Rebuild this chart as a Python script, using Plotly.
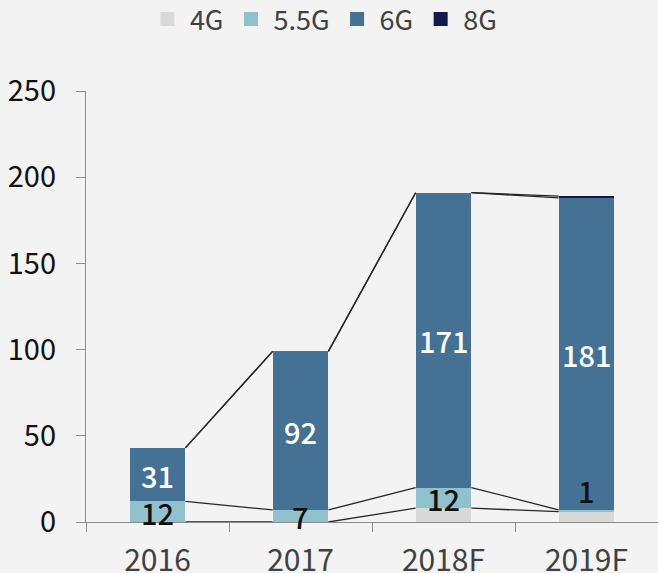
import numpy as np
import plotly.graph_objects as go

categories = ["2016", "2017", "2018F", "2019F"]
s_4g = [0, 0, 8, 6]
s_55g = [12, 7, 12, 1]
s_6g = [31, 92, 171, 181]
s_8g = [0, 0, 0, 1]
series_names = ["4G", "5.5G", "6G", "8G"]
y_ticks = [0, 50, 100, 150, 200, 250]

colors = ["#d9d9d9", "#92c1ce", "#457294", "#17184f"]
series = [s_4g, s_55g, s_6g, s_8g]
bar_w = 0.39
xs = np.arange(len(categories))
FONT = "Noto Sans CJK KR"
BG = "#f3f3f3"

fig = go.Figure()
for name, vals, col in zip(series_names, series, colors):
    fig.add_trace(go.Bar(x=xs, y=vals, name=name, marker=dict(color=col, line=dict(width=0)),
                         width=bar_w, hoverinfo="skip", showlegend=False, legendgroup=name))

# legend entries (square swatches)
for name, col in zip(series_names, colors):
    fig.add_trace(go.Scatter(x=[None], y=[None], mode="markers", name=name, legendgroup=name,
                             marker=dict(symbol="square", size=14, color=col, line=dict(width=0))))

# series lines
cum = np.cumsum(np.array(series, dtype=float), axis=0)
for k in range(cum.shape[0]):
    lx, ly = [], []
    for i in range(len(categories) - 1):
        lx += [xs[i] + bar_w / 2, xs[i + 1] - bar_w / 2, None]
        ly += [cum[k, i], cum[k, i + 1], None]
    fig.add_trace(go.Scatter(x=lx, y=ly, mode="lines", line=dict(color="#262626", width=1.3),
                             showlegend=False, hoverinfo="skip"))

# data labels
label_specs = [(1, "#111111"), (2, "white")]
annotations = []
for k, col in label_specs:
    for i in range(len(categories)):
        v = series[k][i]
        if v <= 0:
            continue
        base = cum[k - 1, i] if k > 0 else 0
        mid = base + v / 2
        shift = 0
        if k == 1 and v < 3:
            shift = 21
        annotations.append(dict(x=xs[i], y=mid, text=str(v), showarrow=False, yshift=shift,
                                font=dict(family=FONT, size=29, color=col, weight=500)))

fig.update_layout(
    barmode="stack",
    width=658, height=573,
    margin=dict(l=86, r=0, t=91, b=51, autoexpand=False),
    paper_bgcolor=BG, plot_bgcolor=BG,
    font=dict(family=FONT, size=29, color="#1a1a1a"),
    annotations=annotations,
    showlegend=True,
    legend=dict(orientation="h", x=0.415, xanchor="center", y=1.166, yanchor="middle",
                traceorder="normal", font=dict(family=FONT, size=27, color="#404040"),
                itemwidth=35,
                bgcolor="rgba(0,0,0,0)", itemclick=False),
    xaxis=dict(range=[-0.5, 3.5], tickvals=list(xs), ticktext=categories, showgrid=False,
               showline=True, linecolor="#8c8c8c", linewidth=1.3, ticks="", zeroline=False,
               ticklabelstandoff=12,
               tickfont=dict(family=FONT, size=30, color="#404040")),
    yaxis=dict(range=[0, 250], tickvals=y_ticks, showgrid=False, showline=True,
               linecolor="#8c8c8c", linewidth=1.3, ticks="outside", ticklen=9,
               tickcolor="#8c8c8c", tickwidth=1.3, zeroline=False, ticklabelstandoff=14,
               tickfont=dict(family=FONT, size=29, color="#111111")),
)

fig.update_xaxes(minor=dict(tickvals=[-0.5, 0.5, 1.5, 2.5], ticks="outside", ticklen=9,
                            tickcolor="#8c8c8c", tickwidth=1.3))

fig.write_html("out.html", config={"displayModeBar": False},
               post_script="document.body.style.margin='0';document.body.style.background='%s';" % BG)
